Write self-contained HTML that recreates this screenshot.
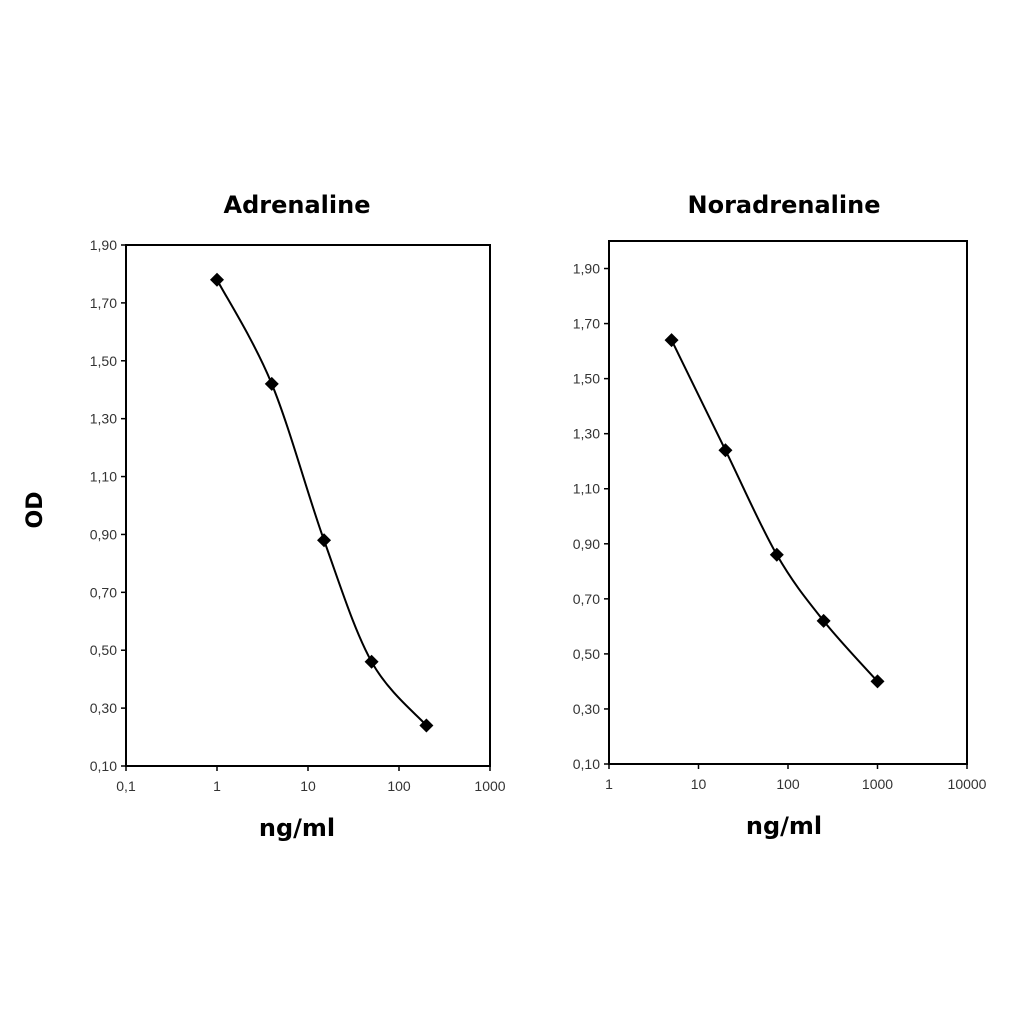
<!DOCTYPE html>
<html><head><meta charset="utf-8"><style>
body{margin:0;background:#fff}
svg text{font-family:"Liberation Sans",sans-serif}
</style></head><body>
<svg width="1024" height="1024" viewBox="0 0 1024 1024" xmlns="http://www.w3.org/2000/svg">
<rect width="1024" height="1024" fill="#fff"/>
<text x="42" y="510" font-size="22" font-weight="bold" text-anchor="middle" transform="rotate(-90 42 510)" style="font-family:'DejaVu Sans',sans-serif">OD</text>
<g id="left"></g>
<g id="right"></g>
</svg>
<script>
const adrX = [1, 4, 15, 50, 200];
const adrY = [1.78, 1.42, 0.88, 0.46, 0.24];
const norX = [5, 20, 75, 250, 1000];
const norY = [1.64, 1.24, 0.86, 0.62, 0.40];
const yTicks = [0.1, 0.3, 0.5, 0.7, 0.9, 1.1, 1.3, 1.5, 1.7, 1.9];
const yTickLabels = ["0,10","0,30","0,50","0,70","0,90","1,10","1,30","1,50","1,70","1,90"];
const adrXTicks = [0.1, 1, 10, 100, 1000];
const adrXLabels = ["0,1","1","10","100","1000"];
const norXTicks = [1, 10, 100, 1000, 10000];
const norXLabels = ["1","10","100","1000","10000"];

const NS = "http://www.w3.org/2000/svg";
function mk(parent, tag, attrs){const e=document.createElementNS(NS,tag);for(const k in attrs)e.setAttribute(k,attrs[k]);parent.appendChild(e);return e;}

function drawChart(g, cfg){
  const {x0,x1,y0,y1,xmin,xmax,ymin,ymax,title,xs,ys,xt,xl,slug,tx,ty}=cfg;
  const sx=v=>x0+(Math.log10(v)-Math.log10(xmin))/(Math.log10(xmax)-Math.log10(xmin))*(x1-x0);
  const sy=v=>y1-(v-ymin)/(ymax-ymin)*(y1-y0);
  const t=mk(g,"text",{x:tx,y:ty,"font-size":24,"font-weight":"bold","text-anchor":"middle",style:"font-family:'DejaVu Sans',sans-serif"});
  t.textContent=title;
  
  
  const box=mk(g,"rect",{x:x0,y:y0,width:x1-x0,height:y1-y0,fill:"none",stroke:"#000","stroke-width":2});
  
  
  yTicks.forEach((v,i)=>{
    if(v>ymax)return;
    const y=sy(v);
    mk(g,"line",{x1:x0-5,x2:x0,y1:y,y2:y,stroke:"#000","stroke-width":1.5});
    const l=mk(g,"text",{x:x0-9,y:y+5,"font-size":14,"text-anchor":"end",fill:"#333"});
    l.textContent=yTickLabels[i];
    
    
  });
  xt.forEach((v,i)=>{
    const x=sx(v);
    mk(g,"line",{x1:x,x2:x,y1:y1,y2:y1+5,stroke:"#000","stroke-width":1.5});
    const l=mk(g,"text",{x:x,y:y1+25,"font-size":14,"text-anchor":"middle",fill:"#333"});
    l.textContent=xl[i];
    
    
  });
  const xt2=mk(g,"text",{x:tx,y:y1+70,"font-size":24,"font-weight":"bold","text-anchor":"middle",style:"font-family:'DejaVu Sans',sans-serif"});
  xt2.textContent="ng/ml";
  
  
  const pts=xs.map((v,i)=>[sx(v),sy(ys[i])]);
  let d="M"+pts[0][0]+","+pts[0][1];
  for(let i=0;i<pts.length-1;i++){
    const p0=pts[Math.max(0,i-1)],p1=pts[i],p2=pts[i+1],p3=pts[Math.min(pts.length-1,i+2)];
    const c1=[p1[0]+(p2[0]-p0[0])/6,p1[1]+(p2[1]-p0[1])/6];
    const c2=[p2[0]-(p3[0]-p1[0])/6,p2[1]-(p3[1]-p1[1])/6];
    d+=" C"+c1+" "+c2+" "+p2;
  }
  const line=mk(g,"path",{d:d,fill:"none",stroke:"#000","stroke-width":2});
  
  
  pts.forEach(p=>{
    const m=mk(g,"polygon",{points:`${p[0]},${p[1]-7} ${p[0]+7},${p[1]} ${p[0]},${p[1]+7} ${p[0]-7},${p[1]}`,fill:"#000"});
    
    
  });
}
drawChart(document.getElementById("left"),{x0:126,x1:490,y0:245,y1:766,xmin:0.1,xmax:1000,ymin:0.1,ymax:1.9,title:"Adrenaline",xs:adrX,ys:adrY,xt:adrXTicks,xl:adrXLabels,slug:"adrenaline",tx:297,ty:213});
drawChart(document.getElementById("right"),{x0:609,x1:967,y0:241,y1:764,xmin:1,xmax:10000,ymin:0.1,ymax:2.0,title:"Noradrenaline",xs:norX,ys:norY,xt:norXTicks,xl:norXLabels,slug:"noradrenaline",tx:784,ty:213});
</script>
</body></html>
